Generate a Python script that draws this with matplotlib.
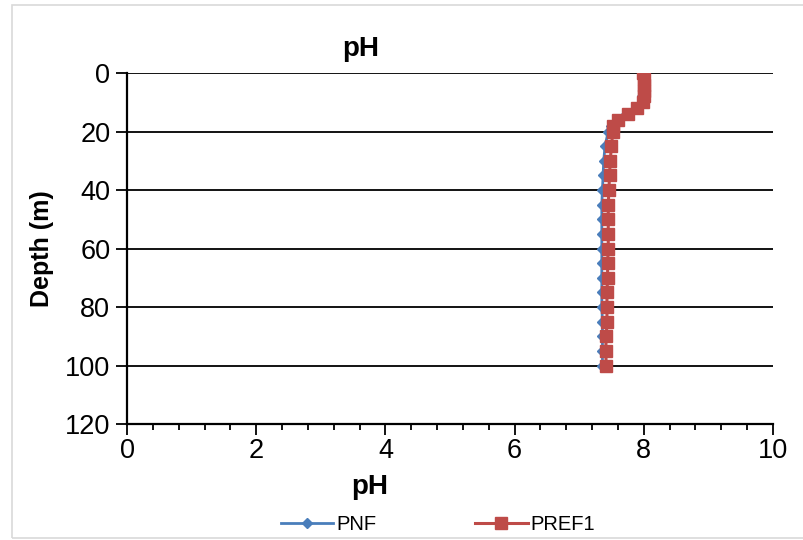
import matplotlib
import numpy as np

matplotlib.use("Agg")
import matplotlib.pyplot as plt  # noqa: E402
from matplotlib.patches import Rectangle  # noqa: E402
from matplotlib.ticker import MultipleLocator  # noqa: E402

plt.rcParams["font.family"] = ["Liberation Sans", "DejaVu Sans"]

# depth profile (m) and pH for the two stations
depth_m = [0, 2, 4, 6, 8, 10, 12, 14, 16, 18, 20, 25, 30, 35, 40, 45, 50,
           55, 60, 65, 70, 75, 80, 85, 90, 95, 100]
ph_pnf = [7.98, 7.99, 7.99, 7.99, 7.98, 7.97, 7.88, 7.72, 7.58, 7.50, 7.45,
          7.40, 7.38, 7.37, 7.36, 7.35, 7.35, 7.35, 7.35, 7.35, 7.35, 7.35,
          7.35, 7.36, 7.36, 7.36, 7.36]
ph_pref1 = [7.99, 8.00, 8.00, 8.00, 8.00, 7.99, 7.90, 7.75, 7.60, 7.53, 7.52,
            7.50, 7.48, 7.47, 7.46, 7.45, 7.45, 7.45, 7.45, 7.44, 7.44, 7.43,
            7.43, 7.43, 7.42, 7.41, 7.42]

fig = plt.figure(figsize=(8.04, 5.40), dpi=100)
fig.patches.append(Rectangle((12 / 804, 2 / 540), 800 / 804, 533 / 540,
                             transform=fig.transFigure, fill=False,
                             edgecolor="#d9d9d9", linewidth=1.2))
ax = fig.add_axes([0.158, 0.2148, 0.8034, 0.65])

ax.plot(ph_pnf, depth_m, color="#4a7ebb", lw=2.0, marker="D", ms=5.5,
        label="PNF", zorder=3)
ax.plot(ph_pref1, depth_m, color="#be4b48", lw=2.2, marker="s", ms=8,
        label="PREF1", zorder=4)

ax.set_xlim(0, 10)
ax.set_ylim(120, 0)
ax.xaxis.set_major_locator(MultipleLocator(2))
ax.xaxis.set_minor_locator(MultipleLocator(0.4))
ax.yaxis.set_major_locator(MultipleLocator(20))
for y in range(0, 120, 20):
    ax.axhline(y, color="black", lw=1.3, zorder=1)

for side in ("top", "right"):
    ax.spines[side].set_visible(False)
for side in ("left", "bottom"):
    ax.spines[side].set_linewidth(1.6)
ax.tick_params(axis="both", which="major", labelsize=19.5, length=8, width=1.3,
               direction="out", pad=4)
ax.tick_params(axis="x", which="minor", length=4, width=1.3, direction="out")
ax.tick_params(axis="x", which="major", pad=2)

fig.text(0.449, 0.91, "pH", fontsize=20, fontweight="bold", ha="center",
         va="center")
fig.text(0.46, 0.098, "pH", fontsize=20, fontweight="bold", ha="center",
         va="center")
fig.text(0.052, 0.54, "Depth (m)", fontsize=18, fontweight="bold", ha="center",
         va="center", rotation=90)

fig.legend(loc="center", bbox_to_anchor=(0.545, 0.029), ncol=2, frameon=False,
           fontsize=14.5, handlelength=2.6, columnspacing=4.9,
           handletextpad=0.15)

fig.savefig("out.png", dpi=100)
